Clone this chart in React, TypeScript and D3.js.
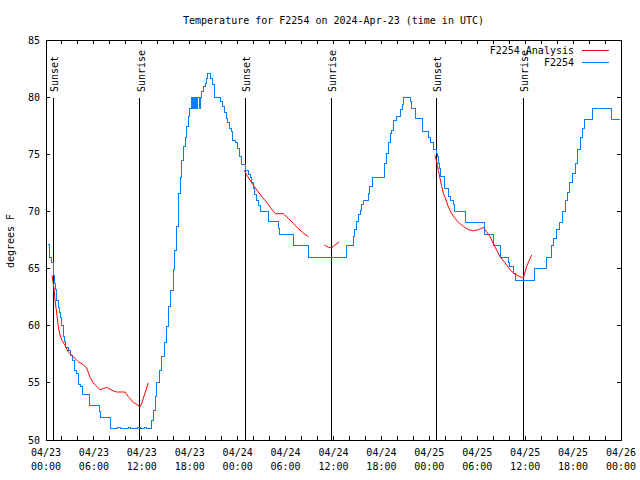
import React from "react";
import * as d3 from "d3";

const TITLE = "Temperature for F2254 on 2024-Apr-23 (time in UTC)";
const Y_LABEL = "degrees F";
const SERIES_NAMES = ["F2254 Analysis", "F2254"];
const SERIES_COLORS = ["#ff0000", "#0080ff"];

// x tick labels (every 6 hours, hours since 04/23 00:00 UTC)
const xTickHours = [0, 6, 12, 18, 24, 30, 36, 42, 48, 54, 60, 66, 72];
const xTickDates = ["04/23", "04/23", "04/23", "04/23", "04/24", "04/24", "04/24", "04/24", "04/25", "04/25", "04/25", "04/25", "04/26"];
const xTickTimes = ["00:00", "06:00", "12:00", "18:00", "00:00", "06:00", "12:00", "18:00", "00:00", "06:00", "12:00", "18:00", "00:00"];
const yTicks = [50, 55, 60, 65, 70, 75, 80, 85];

// Sunset / sunrise events (hours)
const eventHours = [0.88, 11.77, 24.92, 35.69, 48.84, 59.73];
const eventNames = ["Sunset", "Sunrise", "Sunset", "Sunrise", "Sunset", "Sunrise"];

// Observed F2254 (hours, °F)
const obsHours = [0.25, 0.38, 0.5, 0.75, 0.91, 1.09, 1.21, 1.34, 1.54, 1.67, 1.84, 1.97, 2.17, 2.34, 2.5, 2.79, 3.09, 3.3, 3.51, 3.84, 4.05, 4.26, 4.55, 5.5, 6.76, 6.85, 8.1, 9.0, 9.3, 10.3, 10.6, 11.5, 11.8, 12.3, 12.6, 13.23, 13.44, 13.65, 13.86, 14.19, 14.49, 14.78, 15.03, 15.31, 15.61, 15.94, 16.15, 16.37, 16.57, 16.78, 16.99, 17.19, 17.41, 17.62, 17.82, 18.03, 18.24, 18.3, 18.43, 18.6, 18.73, 18.9, 19.03, 19.2, 19.33, 19.5, 19.7, 19.91, 20.12, 20.25, 20.57, 20.82, 21.04, 21.16, 21.91, 22.13, 22.33, 22.54, 22.75, 22.95, 23.17, 23.38, 23.79, 24.0, 24.2, 24.42, 25.04, 25.3, 25.55, 25.76, 25.96, 26.17, 26.38, 26.58, 26.8, 27.84, 29.1, 29.3, 31.05, 32.93, 37.65, 38.48, 38.69, 38.9, 39.1, 39.32, 39.53, 39.73, 40.36, 40.57, 40.91, 42.36, 42.66, 42.86, 43.08, 43.29, 43.49, 43.95, 44.33, 44.58, 44.74, 45.58, 45.79, 46.21, 47.17, 47.87, 48.17, 48.58, 48.84, 49.0, 49.12, 49.25, 49.42, 49.84, 50.38, 50.68, 51.0, 51.21, 52.47, 54.97, 56.01, 56.94, 57.94, 58.1, 58.6, 58.85, 61.15, 62.7, 63.32, 63.61, 63.95, 64.28, 64.7, 64.99, 65.28, 65.61, 65.95, 66.24, 66.53, 66.87, 67.16, 67.49, 68.46, 70.75, 71.88];
const obsTemps = [67.1, 66.8, 66.0, 65.5, 64.4, 63.7, 63.2, 62.2, 61.6, 61.2, 60.7, 60.0, 59.1, 58.6, 58.1, 57.8, 57.4, 57.0, 56.1, 55.8, 54.9, 54.7, 54.0, 53.0, 52.5, 52.0, 51.0, 51.1, 51.0, 51.1, 51.0, 51.1, 51.0, 51.1, 51.0, 51.75, 52.6, 53.8, 55.0, 56.1, 57.3, 58.5, 59.9, 61.7, 63.1, 64.9, 66.6, 68.7, 71.6, 73.0, 74.5, 75.7, 76.5, 77.4, 78.3, 79.0, 80.0, 79.0, 80.0, 79.0, 80.0, 79.0, 80.0, 79.0, 80.0, 80.5, 80.9, 81.2, 81.6, 82.1, 81.6, 81.1, 80.2, 80.0, 79.6, 79.2, 78.7, 78.1, 77.8, 77.3, 77.0, 76.25, 76.0, 75.5, 74.8, 74.1, 73.6, 73.2, 73.0, 72.5, 72.0, 71.5, 71.0, 70.5, 70.0, 69.1, 68.5, 68.0, 67.05, 66.0, 67.0, 67.8, 68.4, 69.1, 69.7, 70.1, 70.6, 71.0, 71.6, 72.2, 73.0, 74.2, 75.1, 76.0, 76.8, 77.1, 78.0, 78.3, 78.9, 79.4, 80.0, 79.6, 79.0, 78.1, 77.0, 76.5, 76.0, 75.4, 75.1, 74.8, 74.2, 73.8, 73.1, 72.0, 71.3, 71.0, 70.6, 70.0, 69.05, 68.0, 67.06, 66.0, 65.5, 65.2, 64.6, 64.0, 65.0, 66.0, 67.0, 67.6, 68.4, 69.05, 70.0, 71.0, 71.7, 72.5, 73.3, 74.2, 75.4, 76.5, 77.3, 78.06, 79.0, 78.06, 78.06];

// Analysis F2254 (hours, °F); null = gap between runs
const anaHours = [0.75, 1.0, 1.13, 1.34, 1.54, 1.75, 1.97, 2.38, 2.79, 3.42, 4.04, 4.67, 5.1, 5.51, 5.92, 6.35, 6.76, 7.18, 7.6, 8.01, 8.43, 8.85, 9.89, 10.31, 10.93, 11.36, 11.77, 11.98, 12.4, 12.81, 13.0,
  24.83, 25.13, 25.54, 25.96, 26.58, 27.21, 27.84, 28.46, 28.8, 29.71, 30.34, 30.97, 31.59, 32.22, 32.85, 33.0,
  34.85, 35.35, 35.77, 36.19, 36.73, 37.0,
  48.71, 48.92, 49.12, 49.34, 49.55, 49.75, 50.09, 50.38, 50.8, 51.21, 51.63, 52.25, 52.88, 53.51, 54.13, 54.76, 55.18, 55.6, 56.01, 56.44, 56.85, 57.48, 58.1, 58.73, 59.35, 59.77, 60.19, 60.82];
const anaTemps = [64.4, 63.3, 62.25, 61.1, 59.9, 59.2, 58.75, 58.3, 57.7, 57.3, 56.85, 56.6, 56.3, 55.5, 55.0, 54.7, 54.4, 54.5, 54.6, 54.45, 54.3, 54.2, 54.2, 53.8, 53.3, 53.1, 52.9, 53.2, 54.1, 55.0, null,
  73.6, 73.2, 72.75, 72.3, 71.7, 71.15, 70.6, 70.0, 69.8, 69.8, 69.4, 68.95, 68.5, 68.1, 67.8, null,
  67.06, 66.86, 66.8, 67.06, 67.35, null,
  74.9, 74.35, 73.6, 72.9, 72.2, 71.6, 71.0, 70.4, 69.8, 69.4, 69.05, 68.7, 68.4, 68.3, 68.4, 68.6, 68.2, 67.8, 67.2, 66.6, 66.04, 65.5, 64.9, 64.5, 64.3, 64.15, 65.2, 66.2];

const W = 640;
const H = 480;
const M = { left: 46, right: 621, top: 40, bottom: 440 };
const FONT = "'DejaVu Sans Mono', 'Liberation Mono', monospace";

export default function App() {
  const x = d3.scaleLinear().domain([0, 72]).range([M.left, M.right]);
  const y = d3.scaleLinear().domain([50, 85]).range([M.bottom, M.top]);

  const obs: [number, number][] = obsHours.map((h, i) => [h, obsTemps[i]]);
  const ana: [number, number | null][] = anaHours.map((h, i) => [h, anaTemps[i]]);

  const obsLine = d3
    .line<[number, number]>()
    .x((d) => x(d[0]))
    .y((d) => y(d[1]))
    .curve(d3.curveStepAfter);
  const anaLine = d3
    .line<[number, number | null]>()
    .defined((d) => d[1] !== null)
    .x((d) => x(d[0]))
    .y((d) => y(d[1] as number));

  const minorTicks = d3.range(0, 73, 2);
  const tickLen = 4;

  return (
    <svg
      width={W}
      height={H}
      style={{ position: "absolute", left: 0, top: 0, background: "#fff" }}
      fontFamily={FONT}
      fontSize={10}
    >
      <rect x={0} y={0} width={W} height={H} fill="#fff" />
      <text x={(M.left + M.right) / 2} y={20} textAnchor="middle" dominantBaseline="central">
        {TITLE}
      </text>

      {/* ticks */}
      <g stroke="#000" strokeWidth={1} shapeRendering="crispEdges">
        {minorTicks.map((t) => (
          <g key={"xt" + t}>
            <line x1={x(t)} x2={x(t)} y1={M.bottom} y2={M.bottom - tickLen} />
            <line x1={x(t)} x2={x(t)} y1={M.top} y2={M.top + tickLen} />
          </g>
        ))}
        {yTicks.map((t) => (
          <g key={"yt" + t}>
            <line x1={M.left} x2={M.left + tickLen} y1={y(t)} y2={y(t)} />
            <line x1={M.right} x2={M.right - tickLen} y1={y(t)} y2={y(t)} />
          </g>
        ))}
      </g>

      {/* y labels */}
      {yTicks.map((t) => (
        <text key={"yl" + t} x={M.left - 6} y={y(t)} textAnchor="end" dominantBaseline="central">
          {t}
        </text>
      ))}
      <text
        transform={`translate(10,${(M.top + M.bottom) / 2 + 1}) rotate(-90)`}
        textAnchor="middle"
        dominantBaseline="central"
      >
        {Y_LABEL}
      </text>

      {/* x labels */}
      {xTickHours.map((h, i) => (
        <g key={"xl" + h}>
          <text x={x(h)} y={452} textAnchor="middle" dominantBaseline="central">
            {xTickDates[i]}
          </text>
          <text x={x(h)} y={466} textAnchor="middle" dominantBaseline="central">
            {xTickTimes[i]}
          </text>
        </g>
      ))}

      {/* event lines */}
      {eventHours.map((h, i) => (
        <g key={"ev" + i}>
          <line
            x1={x(h)}
            x2={x(h)}
            y1={98}
            y2={M.bottom}
            stroke="#000"
            strokeWidth={1}
            shapeRendering="crispEdges"
          />
          <text
            transform={`translate(${x(h) + 1.5},92) rotate(-90)`}
            textAnchor="start"
            dominantBaseline="central"
          >
            {eventNames[i]}
          </text>
        </g>
      ))}

      {/* series */}
      <path
        d={obsLine(obs) || ""}
        fill="none"
        stroke={SERIES_COLORS[1]}
        strokeWidth={1}
        shapeRendering="crispEdges"
      />
      <path d={anaLine(ana) || ""} fill="none" stroke={SERIES_COLORS[0]} strokeWidth={1} />

      {/* legend */}
      {SERIES_NAMES.map((name, i) => (
        <g key={"lg" + i}>
          <text x={574} y={50 + i * 12} textAnchor="end" dominantBaseline="central">
            {name}
          </text>
          <line
            x1={582}
            x2={609}
            y1={50 + i * 12}
            y2={50 + i * 12}
            stroke={SERIES_COLORS[i]}
            strokeWidth={1}
            shapeRendering="crispEdges"
          />
        </g>
      ))}

      {/* border */}
      <rect
        x={M.left}
        y={M.top}
        width={M.right - M.left}
        height={M.bottom - M.top}
        fill="none"
        stroke="#000"
        strokeWidth={1}
        shapeRendering="crispEdges"
      />
    </svg>
  );
}
